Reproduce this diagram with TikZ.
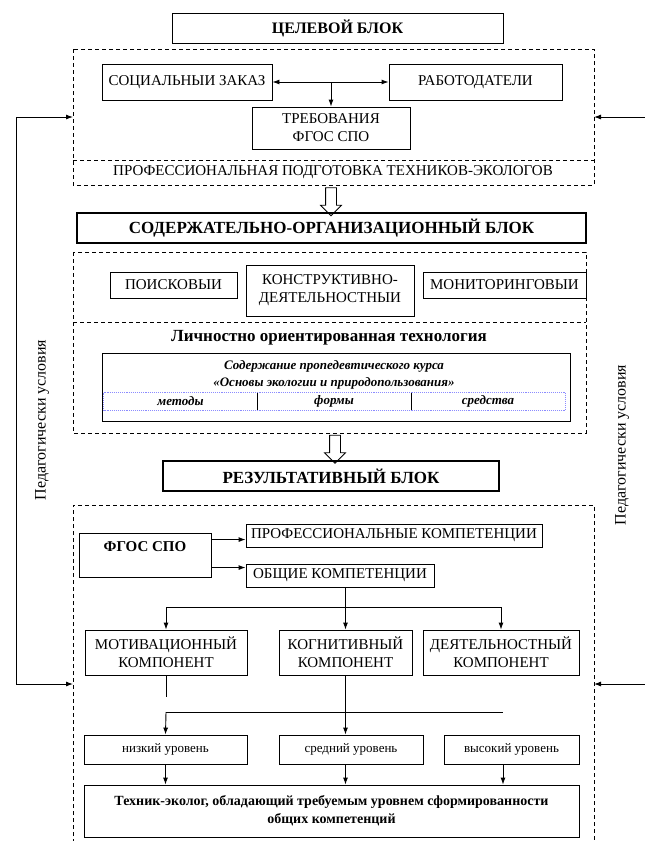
\documentclass[tikz,border=0pt]{standalone}
\usepackage{fontspec}
\setmainfont{Liberation Serif}
\usetikzlibrary{arrows.meta,shapes.arrows}
\begin{document}
\begin{tikzpicture}[x=1pt, y=-1pt, line width=0.9pt,
  blk/.style={draw, inner sep=2pt, align=center, font=\fontsize{15pt}{18pt}\selectfont},
  hdr/.style={blk, line width=2pt, font=\bfseries\fontsize{17pt}{19pt}\selectfont},
  lvl/.style={blk, font=\fontsize{13pt}{15pt}\selectfont},
  cell/.style={inner sep=0pt, minimum height=17pt, font=\bfseries\itshape\fontsize{13pt}{15pt}\selectfont},
  dsh/.style={dash pattern=on 4pt off 3pt, line width=0.8pt},
  arr/.style={-{Latex[length=7pt,width=5pt]}},
  hol/.style={draw, fill=white, line width=0.8pt, single arrow, single arrow head extend=5pt,
    minimum width=20pt, minimum height=28pt, inner xsep=0pt, inner ysep=5pt}]
  \useasboundingbox (0,0) rectangle (645,841);

  % целевой блок
  \node[blk, font=\bfseries\fontsize{16pt}{18pt}\selectfont, minimum width=331pt, minimum height=30pt] (cel) at (337.5,28) {ЦЕЛЕВОЙ БЛОК};
  \draw[dsh] (73,49) rectangle (594,185);
  \draw[dsh] (73,160) -- (594,160);
  \node[blk, minimum width=170pt, minimum height=36pt] (soc) at (187,82) {СОЦИАЛЬНЫИ ЗАКАЗ};
  \node[blk, minimum width=173pt, minimum height=36pt] (rab) at (475.5,82) {РАБОТОДАТЕЛИ};
  \node[blk, minimum width=158pt, minimum height=42pt] (treb) at (331,128) {ТРЕБОВАНИЯ\\ФГОС СПО};
  \draw[{Latex[length=7pt,width=5pt]}-{Latex[length=7pt,width=5pt]}] (soc.east) -- (rab.west);
  \draw[arr] (treb.north |- soc.east) -- (treb.north);
  \node[font=\fontsize{15pt}{17pt}\selectfont] (prof) at (333,172) {ПРОФЕССИОНАЛЬНАЯ ПОДГОТОВКА ТЕХНИКОВ-ЭКОЛОГОВ};

  \node[hol, rotate=-90] (h1) at (331,199) {};

  % содержательно-организационный блок
  \node[hdr, minimum width=509pt, minimum height=30pt] (sod) at (331.5,228) {СОДЕРЖАТЕЛЬНО-ОРГАНИЗАЦИОННЫЙ БЛОК};
  \draw[dsh] (73,252) rectangle (586,433);
  \draw[dsh] (73,322) -- (586,322);
  \node[blk, minimum width=127pt, minimum height=26pt] (poi) at (173.5,285) {ПОИСКОВЫИ};
  \node[blk, minimum width=168pt, minimum height=51pt] (kon) at (330,290.5) {КОНСТРУКТИВНО-\\ДЕЯТЕЛЬНОСТНЫИ};
  \node[blk, minimum width=163pt, minimum height=26pt] (mon) at (504.5,285) {МОНИТОРИНГОВЫИ};
  \node[font=\bfseries\fontsize{17pt}{19pt}\selectfont] (lich) at (329,338) {Личностно ориентированная технология};
  \node[draw, minimum width=468pt, minimum height=68pt] (kurs) at (336,387) {};
  \node[align=center, font=\bfseries\itshape\fontsize{13pt}{17pt}\selectfont] (ktxt) at (334,374.5)
    {Содержание пропедевтического курса\\«Основы экологии и природопользования»};
  \node[cell, minimum width=153pt] (met) at (180.5,401.5) {методы};
  \node[cell, minimum width=154pt] (frm) at (334,401.5) {формы};
  \node[cell, minimum width=154pt] (sred) at (488,401.5) {средства};
  \draw[blue!45, densely dotted] (met.north west) rectangle (sred.south east);
  \draw (met.north east) -- (met.south east);
  \draw (frm.north east) -- (frm.south east);

  \node[hol, rotate=-90] (h2) at (335,446.5) {};

  % результативный блок
  \node[hdr, minimum width=336pt, minimum height=30pt] (rez) at (331,476) {РЕЗУЛЬТАТИВНЫЙ БЛОК};
  \draw[dsh] (73,850) -- (73,505) -- (594,505) -- (594,850);
  \node[blk, font=\bfseries\fontsize{15pt}{17pt}\selectfont, minimum width=132pt, minimum height=44pt,
    text height=11pt, text depth=19pt] (fgos) at (145,555) {ФГОС СПО};
  \node[blk, minimum width=296pt, minimum height=23pt] (pk) at (394,535.5) {ПРОФЕССИОНАЛЬНЫЕ КОМПЕТЕНЦИИ};
  \node[blk, minimum width=188pt, minimum height=23pt] (ok) at (340,575.5) {ОБЩИЕ КОМПЕТЕНЦИИ};
  \coordinate (f1) at ([yshift=-7pt]fgos.north east);
  \coordinate (f2) at ([yshift=-35pt]fgos.north east);
  \draw[arr] (f1) -- (f1 -| pk.west);
  \draw[arr] (f2) -- (f2 -| ok.west);

  \node[blk, minimum width=162pt, minimum height=45pt] (mot) at (166,652.5) {МОТИВАЦИОННЫЙ\\КОМПОНЕНТ};
  \node[blk, minimum width=133pt, minimum height=45pt] (kog) at (345.5,652.5) {КОГНИТИВНЫЙ\\КОМПОНЕНТ};
  \node[blk, minimum width=156pt, minimum height=45pt] (dey) at (501,652.5) {ДЕЯТЕЛЬНОСТНЫЙ\\КОМПОНЕНТ};
  \coordinate (b1) at (0,607);
  \draw (mot.north |- b1) -- (dey.north |- b1);
  \draw[arr] (mot.north |- b1) -- (mot.north);
  \draw[arr] (dey.north |- b1) -- (dey.north);
  \draw[arr] (ok.south -| kog.north) -- (kog.north);

  \node[lvl, minimum width=163pt, minimum height=29pt] (niz) at (165.5,749.5) {низкий уровень};
  \node[lvl, minimum width=144pt, minimum height=29pt] (sre) at (351,749.5) {средний уровень};
  \node[lvl, minimum width=135pt, minimum height=29pt] (vys) at (511.5,749.5) {высокий уровень};
  \coordinate (st) at (0,697);
  \coordinate (b2) at (503,712);
  \draw (mot.south) -- (mot.south |- st);
  \draw (mot.south |- b2) -- (b2);
  \draw[arr] (mot.south |- b2) -- (niz.north);
  \draw[arr] (kog.south) -- (kog.south |- sre.north);

  \node[blk, font=\bfseries\fontsize{14pt}{18pt}\selectfont, minimum width=495pt, minimum height=52pt] (fin) at (331.5,811)
    {Техник-эколог, обладающий требуемым уровнем сформированности\\общих компетенций};
  \draw[arr] (niz.south) -- (niz.south |- fin.north);
  \draw[arr] (kog.south |- sre.south) -- (kog.south |- fin.north);
  \draw[arr] (b2 |- vys.south) -- (b2 |- fin.north);

  % педагогические условия
  \coordinate (d1l) at (73,117);
  \coordinate (d3l) at (73,684);
  \coordinate (d1r) at (594,117);
  \coordinate (d3r) at (594,684);
  \coordinate (sl) at (16,117);
  \coordinate (sl2) at (16,684);
  \draw (sl) -- (sl2);
  \draw[arr] (sl) -- (d1l);
  \draw[arr] (sl2) -- (d3l);
  \coordinate (sr) at (650,117);
  \coordinate (sr2) at (650,684);
  \draw[arr] (sr) -- (d1r);
  \draw[arr] (sr2) -- (d3r);
  \node[rotate=90, font=\fontsize{16pt}{18pt}\selectfont] (pl) at (42,420) {Педагогически условия};
  \node[rotate=90, font=\fontsize{16pt}{18pt}\selectfont] (pr) at (622,445) {Педагогически условия};
\end{tikzpicture}
\end{document}
